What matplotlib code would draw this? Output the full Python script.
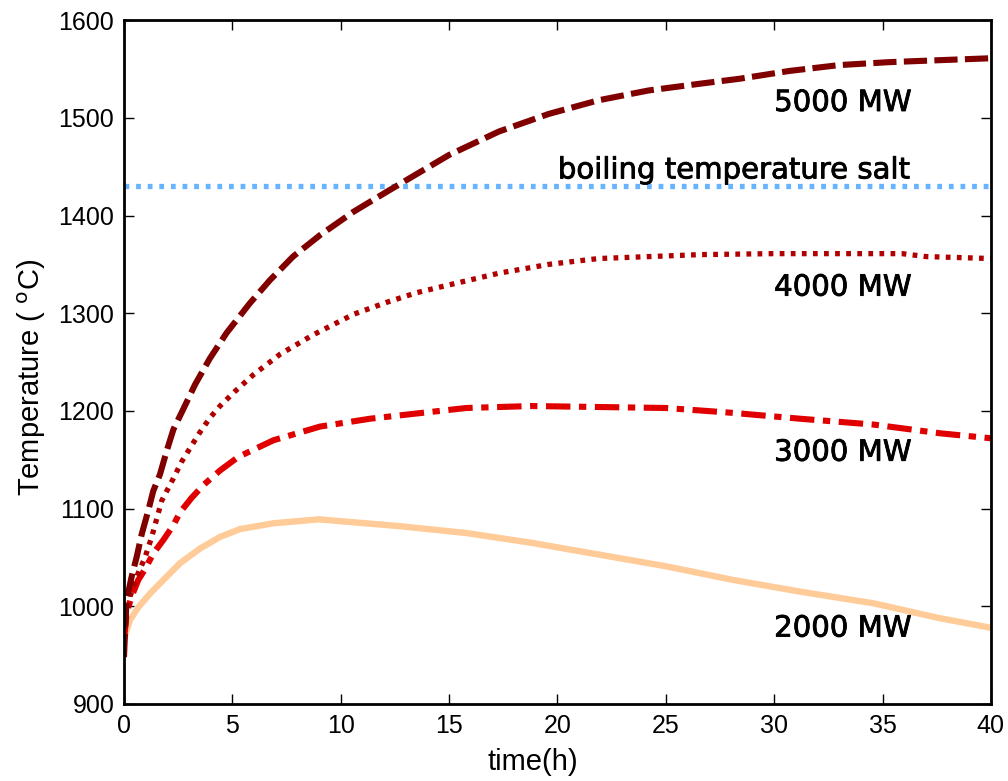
import matplotlib
matplotlib.use("Agg")
import matplotlib.pyplot as plt
import matplotlib.patheffects as pe

# Data
t_5000 = [0, 0.05, 0.12, 0.35, 0.58, 0.82, 1.12, 1.35, 1.66, 1.97, 2.28, 2.74, 3.28, 3.97, 4.74, 5.8, 6.74, 7.8,
          9.05, 10.6, 12.1, 13.7, 15.0, 17.3, 19.6, 21.9, 24.2, 26.6, 28.4, 30.7, 33.0, 35.3, 37.6, 40]
T_5000 = [948, 975, 1006, 1030, 1050, 1074, 1098, 1118, 1135, 1159, 1181, 1202, 1227, 1254, 1280, 1310, 1334, 1358,
          1380, 1404, 1424, 1445, 1462, 1486, 1504, 1518, 1528, 1535, 1540, 1548, 1554, 1557, 1559, 1561]

t_4000 = [0, 0.05, 0.28, 0.58, 0.97, 1.28, 1.74, 2.28, 2.66, 3.05, 3.5, 3.97, 4.43, 5.12, 5.97, 7.2, 8.74, 10.6,
          12.1, 13.5, 15.0, 17.3, 19.6, 21.9, 26.6, 30.0, 35.9, 37.0, 40]
T_4000 = [965, 986, 1010, 1030, 1050, 1071, 1108, 1131, 1148, 1162, 1178, 1193, 1205, 1220, 1237, 1258, 1278, 1299,
          1311, 1321, 1329, 1341, 1350, 1356, 1360, 1361, 1361, 1358, 1356]

t_3000 = [0, 0.12, 0.35, 0.66, 0.97, 1.35, 1.82, 2.28, 2.58, 3.12, 3.66, 4.43, 5.28, 6.9, 9.05, 11.35, 13.35,
          15.8, 18.8, 21.9, 25.0, 28.1, 31.2, 34.6, 37.7, 40]
T_3000 = [965, 993, 1010, 1027, 1038, 1054, 1068, 1083, 1096, 1111, 1124, 1139, 1153, 1170, 1184, 1192, 1197,
          1203, 1205, 1204, 1203, 1198, 1192, 1186, 1177, 1172]

t_2000 = [0, 0.05, 0.28, 0.66, 1.2, 1.82, 2.58, 3.5, 4.43, 5.35, 6.9, 9.0, 12.73, 15.8, 18.8, 21.9, 25.0, 28.1,
          31.2, 34.6, 37.6, 40]
T_2000 = [965, 970, 986, 999, 1013, 1027, 1044, 1059, 1071, 1079, 1085, 1089, 1082, 1075, 1065, 1053, 1041, 1027,
          1015, 1003, 988, 978]

boiling_T = 1430
labels = ["5000 MW", "4000 MW", "3000 MW", "2000 MW"]
label_y = [1507, 1318, 1149, 969]
boiling_label = "boiling temperature salt"
xticks = [0, 5, 10, 15, 20, 25, 30, 35, 40]
yticks = [900, 1000, 1100, 1200, 1300, 1400, 1500, 1600]

fig = plt.figure(figsize=(10.08, 7.81), dpi=100)
ax = fig.add_axes([0.123, 0.0986, 0.860, 0.8756])

ax.axhline(boiling_T, color="#66B3FF", lw=3.8, ls=(0, (0.9, 1.3)))
ax.plot(t_2000, T_2000, color="#FFCC99", lw=4.6, solid_capstyle="butt")
ax.plot(t_3000, T_3000, color="#E00000", lw=4.4, ls=(0, (4, 1.4, 1.2, 1.4)))
ax.plot(t_4000, T_4000, color="#B00000", lw=3.8, ls=(0, (0.9, 1.2)))
ax.plot(t_5000, T_5000, color="#800000", lw=4.4, ls=(0, (3.8, 1.2)))

stroke = [pe.withStroke(linewidth=0.6, foreground="black")]
for lab, y in zip(labels, label_y):
    ax.text(30.0, y, lab, fontsize=21, family="DejaVu Sans", va="baseline", ha="left", path_effects=stroke)
ax.text(20.02, 1438, boiling_label, fontsize=21, family="DejaVu Sans", va="baseline", ha="left",
        path_effects=stroke)

ax.set_xlim(0, 40)
ax.set_ylim(900, 1600)
ax.set_xticks(xticks)
ax.set_yticks(yticks)
ax.tick_params(direction="in", length=7, width=1, labelsize=18, top=True, right=True, pad=7)
for lbl in ax.get_xticklabels() + ax.get_yticklabels():
    lbl.set_family("Liberation Sans")
for s in ax.spines.values():
    s.set_linewidth(2)
ax.set_xlabel("time(h)", fontsize=21, family="Liberation Sans")
ax.set_ylabel("Temperature ( $^{\\mathrm{o}}$C)", fontsize=21, family="Liberation Sans")
ax.xaxis.set_label_coords(0.472, -0.065, transform=ax.transAxes)
ax.xaxis.label.set_va("top")
ax.yaxis.set_label_coords(-0.106, 0.477, transform=ax.transAxes)
ax.yaxis.label.set_va("center")

fig.savefig("out.png", dpi=100)
